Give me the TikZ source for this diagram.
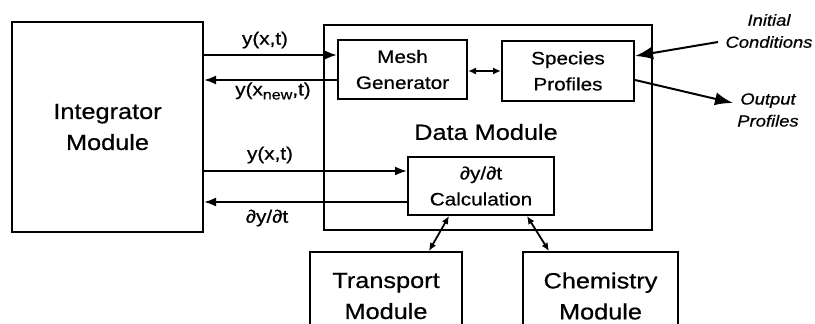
\documentclass[tikz,border=0pt]{standalone}
\usepackage{fontspec}
\setmainfont{Liberation Sans}[FakeStretch=1.15,FakeBold=0.6]
\usetikzlibrary{arrows.meta}
\begin{document}
\begin{tikzpicture}[x=1pt,y=-1pt,
  box/.style={draw, line width=2pt, inner sep=0pt, align=center},
  big/.style={font=\fontsize{22}{31}\selectfont},
  mid/.style={font=\fontsize{18}{26}\selectfont},
  conn/.style={line width=2pt, -{Latex[length=12pt,width=9pt]}},
  dbl/.style={line width=1.8pt, {Latex[length=8pt,width=7pt]}-{Latex[length=8pt,width=7pt]}},
  bigconn/.style={line width=2pt, -{Latex[length=18pt,width=13pt]}},
  lbl/.style={font=\fontsize{18}{22}\selectfont, inner sep=0pt},
  ital/.style={font=\fontsize{16}{22}\selectfont\itshape, inner sep=0pt, align=center}]
\useasboundingbox (0,0) rectangle (815,324);
\clip (0,0) rectangle (815,324);

% boxes
\node[box, big, minimum width=191pt, minimum height=210pt] (integ) at (107.5,127) {Integrator\\Module};
\node[box, minimum width=328pt, minimum height=205pt] (data) at (488,127.5) {};
\node[big, inner sep=0pt] (datalbl) at (486,132) {Data Module};
\node[box, mid, minimum width=129pt, minimum height=59pt] (mesh) at (402.5,69.5) {Mesh\\Generator};
\node[box, mid, minimum width=132pt, minimum height=60pt] (species) at (568,71) {Species\\Profiles};
\node[box, mid, minimum width=146pt, minimum height=58pt] (calc) at (481,186) {∂y/∂t\\Calculation};
\node[box, big, minimum width=152pt, minimum height=88pt, anchor=north] (transport) at (386,251) {Transport\\Module};
\node[box, big, minimum width=155pt, minimum height=88pt, anchor=north] (chem) at (600.5,251) {Chemistry\\Module};

% connectors between integrator and data module
\draw[conn] (integ.east |- 0,55) -- (mesh.west |- 0,55);
\draw[conn] (mesh.west |- 0,80) -- (integ.east |- 0,80);
\draw[conn] (integ.east |- 0,171) -- (calc.west |- 0,171);
\draw[conn] (calc.west |- 0,202) -- (integ.east |- 0,202);

% labels
\node[lbl] (l1) at (265,40) {y(x,t)};
\node[lbl] (l2) at (273,91) {y(x\raisebox{-4pt}{\fontsize{14}{14}\selectfont new},t)};
\node[lbl] (l3) at (270,155) {y(x,t)};
\node[lbl] (l4) at (267,218) {∂y/∂t};

% inner connectors
\draw[dbl] (mesh.east |- 0,71) -- (species.west |- 0,71);
\draw[dbl] ([xshift=42pt]calc.south west) -- ([xshift=120pt]transport.north west);
\draw[dbl] ([xshift=120pt]calc.south west) -- ([xshift=27pt]chem.north west);

% external
\node[ital] (ic) at (769,31) {Initial\\Conditions};
\node[ital] (op) at (768,110) {Output\\Profiles};
\coordinate (icstart) at (718,42);
\coordinate (optip) at (733,103);
\draw[bigconn] (icstart) -- (species.east |- 0,56);
\draw[bigconn] (species.east |- 0,80) -- (optip);
\end{tikzpicture}
\end{document}
